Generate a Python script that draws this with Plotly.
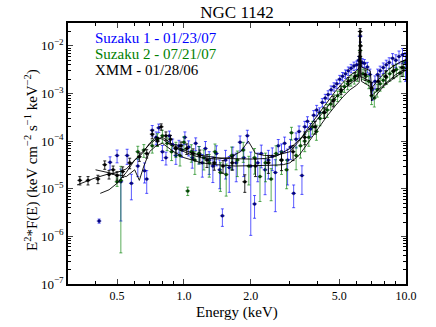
import plotly.graph_objects as go

# Suzaku 1 - 01/23/07
b_e = [0.415, 0.465, 0.50, 0.52, 0.555, 0.58, 0.62, 0.665, 0.68, 0.72, 0.75, 0.77, 0.80, 0.83, 0.86,
       0.89, 0.92, 0.95, 0.98, 1.01, 1.05, 1.09, 1.13, 1.17, 1.21, 1.25, 1.30, 1.35, 1.40, 1.45,
       1.49, 1.54, 1.60, 1.66, 1.72, 1.79, 1.86, 1.93, 2.00, 2.08, 2.15, 2.23, 2.32, 2.40, 2.50,
       2.58, 2.66, 2.75, 2.84, 2.93, 3.02, 3.12, 3.20, 3.30, 3.40, 3.50, 3.60, 3.72, 3.84, 3.96,
       4.08, 4.20, 4.33, 4.46, 4.60, 4.74, 4.88, 5.03, 5.18, 5.34, 5.50, 5.66, 5.83, 6.00, 6.12,
       6.22, 6.35, 6.50, 6.70, 6.88, 7.05, 7.25, 7.45, 7.65, 7.90, 8.15, 8.40, 8.70, 9.00, 9.30,
       9.65, 9.95]
b_f = [2.1e-6, 3.6e-5, 5.0e-5, 1.4e-5, 5.0e-5, 1.3e-5, 3.0e-5, 2.4e-5, 1.6e-5, 1.7e-4, 1.2e-4, 1.9e-4,
       6.0e-5, 4.5e-5, 1.3e-4, 8.5e-5, 5.0e-5, 8.0e-5, 6.5e-5, 1.2e-4, 7.5e-5, 4.5e-5, 9.0e-5, 5.5e-5,
       3.5e-5, 7.0e-5, 4.0e-5, 3.0e-5, 5.5e-5, 2.5e-5, 2.7e-6, 4.0e-5, 2.8e-5, 5.0e-5, 3.5e-5, 9.5e-5,
       4.5e-5, 1.3e-4, 3.0e-5, 4.8e-6, 3.5e-5, 5.5e-5, 2.5e-5, 4.0e-5, 4.8e-5, 2.2e-5, 8.0e-5, 6.0e-5,
       9.0e-5, 4.0e-5, 7.5e-5, 8.0e-6, 1.1e-4, 1.6e-4, 1.9e-5, 2.0e-4, 2.6e-4, 1.8e-4, 3.5e-4, 4.5e-4,
       4.0e-4, 6.5e-4, 8.0e-4, 9.5e-4, 1.2e-3, 1.4e-3, 1.6e-3, 2.0e-3, 2.3e-3, 2.6e-3, 3.0e-3, 3.4e-3,
       3.8e-3, 4.0e-3, 5.0e-3, 1.6e-2, 4.5e-3, 4.3e-3, 3.6e-3, 2.5e-3, 1.2e-3, 1.8e-3, 2.5e-3, 3.0e-3,
       3.5e-3, 4.0e-3, 4.5e-3, 5.5e-3, 5.0e-3, 6.0e-3, 6.5e-3, 4.5e-3]
b_r = [0.1, 0.3, 0.3, 0.85, 0.35, 0.55, 0.4, 0.45, 0.5, 0.25, 0.3, 0.2, 0.35, 0.3, 0.25, 0.3, 0.35, 0.3,
       0.3, 0.3, 0.35, 0.4, 0.3, 0.4, 0.5, 0.4, 0.5, 0.55, 0.45, 0.6, 0.4, 0.6, 0.7, 0.5, 0.6, 0.35, 0.6,
       0.3, 0.965, 0.5, 0.6, 0.5, 0.7, 0.6, 0.5, 0.85, 0.35, 0.45, 0.35, 0.7, 0.45, 0.5, 0.35, 0.3, 0.6,
       0.3, 0.25, 0.3, 0.25, 0.25, 0.25, 0.2, 0.2, 0.2, 0.2, 0.2, 0.2, 0.2, 0.2, 0.2, 0.2, 0.2, 0.2, 0.2,
       0.2, 0.25, 0.2, 0.2, 0.25, 0.3, 0.4, 0.3, 0.3, 0.25, 0.25, 0.25, 0.25, 0.25, 0.3, 0.3, 0.35, 0.6]

# Suzaku 2 - 07/21/07
g_e = [0.50, 0.52, 0.62, 0.66, 0.72, 0.76, 0.80, 0.84, 0.88, 0.92, 0.96, 1.00, 1.04, 1.08, 1.12, 1.17,
       1.23, 1.30, 1.38, 1.46, 1.55, 1.64, 1.74, 1.85, 1.96, 2.08, 2.20, 2.33, 2.47, 2.60, 2.75, 2.90,
       3.05, 3.20, 3.35, 3.50, 3.65, 3.80, 3.95, 4.10, 4.26, 4.42, 4.58, 4.75, 4.92, 5.10, 5.28, 5.46,
       5.65, 5.85, 6.05, 6.22, 6.40, 6.60, 6.80, 7.00, 7.20, 7.42, 7.65, 7.90, 8.15, 8.45, 8.75, 9.05,
       9.40, 9.75]
g_f = [1.4e-5, 1.5e-5, 6.0e-5, 6.5e-5, 8.0e-5, 1.1e-4, 1.3e-4, 9.0e-5, 6.0e-5, 7.0e-5, 5.0e-5, 9.5e-5,
       9.0e-6, 6.0e-5, 4.0e-5, 5.5e-5, 4.5e-5, 3.5e-5, 6.0e-5, 2.2e-5, 2.0e-5, 5.0e-5, 4.0e-5, 6.5e-5,
       3.0e-5, 4.5e-5, 1.8e-5, 3.5e-5, 1.6e-5, 5.5e-5, 4.0e-5, 2.5e-5, 1.5e-4, 5.0e-5, 8.0e-5, 1.0e-4,
       1.2e-4, 2.0e-4, 1.6e-4, 3.0e-4, 4.0e-4, 4.5e-4, 6.0e-4, 7.5e-4, 9.0e-4, 1.1e-3, 1.4e-3, 1.6e-3,
       1.9e-3, 2.1e-3, 2.4e-3, 8.0e-3, 2.6e-3, 2.3e-3, 1.8e-3, 9.0e-4, 8.0e-4, 1.2e-3, 1.6e-3, 1.9e-3,
       2.2e-3, 2.6e-3, 2.9e-3, 3.2e-3, 2.7e-3, 3.5e-3]
g_r = [0.2, 0.97, 0.3, 0.3, 0.3, 0.3, 0.3, 0.3, 0.35, 0.35, 0.4, 0.3, 0.2, 0.4, 0.5, 0.4, 0.45, 0.5, 0.45,
       0.6, 0.65, 0.5, 0.55, 0.45, 0.6, 0.55, 0.7, 0.6, 0.65, 0.45, 0.5, 0.6, 0.3, 0.5, 0.45, 0.4, 0.35,
       0.3, 0.35, 0.3, 0.25, 0.3, 0.25, 0.25, 0.25, 0.25, 0.25, 0.25, 0.25, 0.25, 0.25, 0.3, 0.25, 0.3,
       0.3, 0.35, 0.35, 0.3, 0.3, 0.3, 0.3, 0.3, 0.3, 0.3, 0.35, 0.35]

# XMM - 01/28/06
k_e = [0.34, 0.37, 0.41, 0.44, 0.46, 0.48, 0.50, 0.53, 0.57, 0.63, 0.68, 0.72, 0.76, 0.79, 0.83, 0.87,
       0.92, 0.97, 1.03, 1.10, 1.18, 1.27, 1.37, 1.50, 1.65, 1.88, 2.10, 2.40, 2.75, 3.10, 3.50, 3.90,
       4.30, 4.70, 5.10, 5.50, 5.90, 6.20, 6.22, 6.24, 6.55, 7.00, 7.50, 8.10, 8.80, 9.60]
k_f = [1.5e-5, 1.5e-5, 1.6e-5, 3.2e-5, 2.0e-5, 2.5e-5, 1.9e-5, 2.3e-5, 3.5e-5, 4.7e-5, 5.5e-5, 1.4e-4,
       1.0e-4, 2.0e-4, 1.3e-4, 1.1e-4, 7.0e-5, 8.0e-5, 7.0e-5, 5.5e-5, 5.0e-5, 4.0e-5, 3.5e-5, 3.0e-5,
       3.5e-5, 1.4e-5, 3.0e-5, 3.5e-5, 4.0e-5, 6.0e-5, 1.2e-4, 2.0e-4, 4.0e-4, 7.0e-4, 1.2e-3, 1.8e-3,
       2.3e-3, 6.0e-3, 2.0e-2, 1.0e-2, 2.5e-3, 1.3e-3, 1.8e-3, 2.3e-3, 3.0e-3, 3.5e-3]
k_r = [0.2, 0.2, 0.2, 0.2, 0.2, 0.2, 0.2, 0.25, 0.25, 0.2, 0.2, 0.2, 0.2, 0.15, 0.2, 0.2, 0.2, 0.2,
       0.25, 0.25, 0.3, 0.3, 0.3, 0.3, 0.3, 0.4, 0.4, 0.4, 0.4, 0.35, 0.3, 0.3, 0.25, 0.25, 0.2, 0.2,
       0.2, 0.2, 0.15, 0.2, 0.25, 0.3, 0.3, 0.3, 0.3, 0.35]

# model curves
ma_e = [0.33, 0.36, 0.40, 0.45, 0.50, 0.55, 0.60, 0.65, 0.70, 0.75, 0.80, 0.85, 0.90, 1.0, 1.1, 1.2,
        1.4, 1.6, 1.8, 2.0, 2.3, 2.6, 3.0, 3.4, 3.8, 4.2, 4.6, 5.0, 5.4, 5.8, 6.1, 6.2, 6.25, 6.35,
        6.6, 6.9, 7.0, 7.5, 8.0, 8.5, 9.0, 9.5, 10.0]
ma_f = [1.2e-5, 1.4e-5, 1.7e-5, 2.0e-5, 2.2e-5, 2.6e-5, 4.0e-5, 6.0e-5, 8.5e-5, 1.1e-4, 1.2e-4, 1.0e-4,
        8.0e-5, 6.5e-5, 5.5e-5, 5.0e-5, 4.5e-5, 4.3e-5, 4.2e-5, 4.2e-5, 4.3e-5, 4.8e-5, 7.0e-5, 1.2e-4,
        2.2e-4, 4.0e-4, 6.5e-4, 1.0e-3, 1.4e-3, 1.8e-3, 2.1e-3, 1.9e-2, 2.2e-3, 2.2e-3, 2.0e-3, 1.8e-3,
        9.0e-4, 1.2e-3, 1.6e-3, 2.0e-3, 2.5e-3, 2.9e-3, 3.4e-3]
mb_e = [0.42, 0.46, 0.50, 0.55, 0.60, 0.65, 0.70, 0.75, 0.80, 0.85, 0.9, 1.0, 1.1, 1.2, 1.4, 1.6, 1.8,
        1.95, 2.1, 2.3, 2.6, 3.0, 3.3, 3.6, 4.0, 4.4, 4.8, 5.2, 5.6, 6.0, 6.15, 6.22, 6.3, 6.6, 6.9,
        7.0, 7.4, 7.8, 8.3, 8.8, 9.3, 10.0]
mb_f = [8.0e-6, 9.5e-6, 1.3e-5, 2.2e-5, 4.0e-5, 5.5e-5, 9.0e-5, 1.2e-4, 1.1e-4, 9.0e-5, 7.5e-5, 6.0e-5,
        5.0e-5, 4.5e-5, 4.2e-5, 4.5e-5, 6.0e-5, 1.0e-4, 5.5e-5, 5.0e-5, 5.0e-5, 6.0e-5, 1.0e-4, 1.8e-4,
        3.5e-4, 6.5e-4, 1.1e-3, 1.7e-3, 2.4e-3, 3.0e-3, 3.5e-3, 1.5e-2, 3.6e-3, 3.3e-3, 3.0e-3, 1.3e-3,
        1.8e-3, 2.4e-3, 3.1e-3, 3.8e-3, 4.4e-3, 5.2e-3]
mc_e = [0.40, 0.45, 0.50, 0.55, 0.6, 0.63, 0.66, 0.70, 0.75, 0.80, 0.90, 1.0, 1.2, 1.4, 1.7, 2.0, 2.4,
        2.8, 3.0, 3.3, 3.6, 4.0, 4.4, 4.8, 5.2, 5.6, 6.0, 6.15, 6.22, 6.3, 6.6, 6.9, 7.0, 7.4, 7.8, 8.3,
        8.8, 9.3, 10.0]
mc_f = [2.5e-5, 2.2e-5, 2.0e-5, 1.8e-5, 2.5e-5, 1.5e-5, 3.0e-5, 6.0e-5, 8.0e-5, 9.0e-5, 6.0e-5, 4.5e-5,
        3.5e-5, 3.2e-5, 3.0e-5, 3.0e-5, 3.1e-5, 3.2e-5, 3.5e-5, 5.0e-5, 9.0e-5, 1.8e-4, 3.3e-4, 5.5e-4,
        8.5e-4, 1.2e-3, 1.5e-3, 1.7e-3, 8.0e-3, 1.8e-3, 1.6e-3, 1.4e-3, 7.0e-4, 9.5e-4, 1.3e-3, 1.7e-3,
        2.1e-3, 2.5e-3, 3.1e-3]

x_major = [0.5, 1.0, 2.0, 5.0, 10.0]
x_labels = ["0.5", "1.0", "2.0", "5.0", "10.0"]
x_minor = [0.3, 0.4, 0.6, 0.7, 0.8, 0.9, 3, 4, 6, 7, 8, 9]
y_major = [1e-7, 1e-6, 1e-5, 1e-4, 1e-3, 1e-2]
y_labels = ["10<sup>−7</sup>", "10<sup>−6</sup>", "10<sup>−5</sup>", "10<sup>−4</sup>",
            "10<sup>−3</sup>", "10<sup>−2</sup>"]
y_minor = [m * 10.0 ** p for p in range(-7, -1) for m in range(2, 10)]

FONT = "'Liberation Serif', 'Times New Roman', serif"

fig = go.Figure()


def add_data(e, f, r, bar, mcol):
    fig.add_trace(go.Scatter(
        x=e, y=f, mode="markers",
        marker=dict(size=3, color=mcol, line=dict(color="black", width=0.3)),
        error_y=dict(type="data", array=[v * q for v, q in zip(f, r)],
                     color=bar, thickness=1, width=1.5),
        error_x=dict(type="percent", value=2.5, color=bar, thickness=1, width=0),
        showlegend=False))


add_data(b_e, b_f, b_r, "rgba(0,0,255,0.65)", "rgb(0,0,150)")
add_data(g_e, g_f, g_r, "rgba(0,128,0,0.65)", "rgb(0,80,0)")
add_data(k_e, k_f, k_r, "rgba(0,0,0,0.85)", "black")

for me, mf in [(ma_e, ma_f), (mb_e, mb_f), (mc_e, mc_f)]:
    fig.add_trace(go.Scatter(x=me, y=mf, mode="lines",
                             line=dict(color="black", width=0.9), showlegend=False))

W, H = 436, 327
L, R, T, B = 68, 30, 23, 43
PW, PH = W - L - R, H - T - B


def px(x, y):
    return (x - L) / PW, 1 - (y - T) / PH


for i, (txt, col) in enumerate([("Suzaku 1 - 01/23/07", "blue"),
                                ("Suzaku 2 - 07/21/07", "green"),
                                ("XMM - 01/28/06", "black")]):
    ax, ay = px(93, 38 + 16 * i)
    fig.add_annotation(x=ax, y=ay, xref="paper", yref="paper", text=txt,
                       showarrow=False, xanchor="left", yanchor="middle",
                       font=dict(family=FONT, size=15, color=col))

ax, ay = px(31, 160)
fig.add_annotation(x=ax, y=ay, xref="paper", yref="paper", textangle=-90,
                   text="E<sup>2</sup>*F(E) (keV cm<sup>−2</sup> s<sup>−1</sup> keV<sup>−2</sup>)",
                   showarrow=False, xanchor="center", yanchor="middle",
                   font=dict(family=FONT, size=15, color="black"))

ax, ay = px(237, 312)
fig.add_annotation(x=ax, y=ay, xref="paper", yref="paper", text="Energy (keV)",
                   showarrow=False, xanchor="center", yanchor="middle",
                   font=dict(family=FONT, size=15, color="black"))

fig.update_layout(
    width=W, height=H,
    margin=dict(l=L, r=R, t=T, b=B),
    plot_bgcolor="white", paper_bgcolor="white",
    font=dict(family=FONT, size=12, color="black"),
    title=dict(text="NGC 1142", x=0.5, xanchor="center", xref="paper",
               y=1 - 12 / H, yanchor="middle", font=dict(family=FONT, size=17)),
)
fig.update_xaxes(
    type="log", range=[-0.522, 1.0],
    tickvals=x_major, ticktext=x_labels, ticks="inside", ticklen=5,
    tickfont=dict(family=FONT, size=12),
    minor=dict(tickvals=x_minor, ticks="inside", ticklen=3, tickcolor="black"),
    showline=True, linecolor="black", linewidth=1.5, mirror="allticks",
    showgrid=False, zeroline=False,
)
fig.update_yaxes(
    type="log", range=[-7, -1.52],
    tickvals=y_major, ticktext=y_labels, ticks="inside", ticklen=5,
    tickfont=dict(family=FONT, size=13),
    minor=dict(tickvals=y_minor, ticks="inside", ticklen=3, tickcolor="black"),
    showline=True, linecolor="black", linewidth=1.5, mirror="allticks",
    showgrid=False, zeroline=False,
)

# the page's default body margin would shift the figure by 8px
fig.write_html("out.html", config={"displayModeBar": False},
               post_script="document.body.style.margin='0';")
